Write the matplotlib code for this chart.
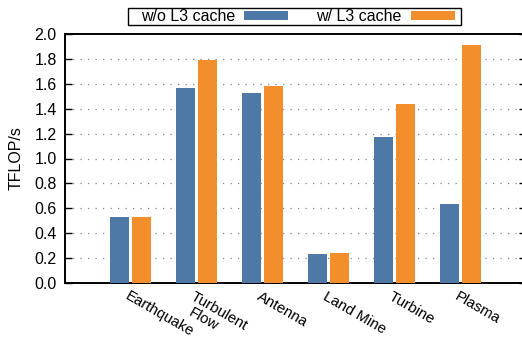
import numpy as np
import matplotlib.pyplot as plt
from matplotlib.patches import Rectangle

plt.rcParams['font.family'] = ['Liberation Sans', 'DejaVu Sans']

apps = ["Earthquake", "Turbulent\nFlow", "Antenna", "Land Mine", "Turbine", "Plasma"]
no_l3 = [0.53, 1.57, 1.525, 0.235, 1.17, 0.635]
with_l3 = [0.53, 1.79, 1.585, 0.237, 1.44, 1.91]
yticks = [0.0, 0.2, 0.4, 0.6, 0.8, 1.0, 1.2, 1.4, 1.6, 1.8, 2.0]

blue = '#4e79a7'
orange = '#f28e2b'
fs = 11.5

fig = plt.figure(figsize=(5.22, 3.39), dpi=100)
ax = fig.add_axes([65 / 522, 1 - 283 / 339, 461 / 522, 249 / 339])

x = np.arange(len(apps))
w = 0.29
b1 = ax.bar(x - 0.167, no_l3, w, color=blue, zorder=3, label='w/o L3 cache')
b2 = ax.bar(x + 0.167, with_l3, w, color=orange, zorder=3, label='w/ L3 cache')

ax.set_xlim(-1, 6)
ax.set_ylim(0, 2.0)
ax.set_yticks(yticks)
ax.set_yticklabels([f"{v:.1f}" for v in yticks], fontsize=fs)
ax.set_xticks([])
ax.set_ylabel('TFLOP/s', fontsize=fs, labelpad=8)

# dotted grid lines at the inner ticks
for v in yticks[1:-1]:
    ax.axhline(v, color='#888888', lw=0.9, ls=(0, (1, 5)), zorder=1)

ax.tick_params(axis='y', direction='in', length=5, width=1.0, right=True,
               pad=6, colors='black')
for side in ['left', 'bottom', 'top', 'right']:
    ax.spines[side].set_linewidth(1.4)

# rotated category labels; extra lines stack straight down
for xi, name in zip(x, apps):
    for k, line in enumerate(name.split("\n")):
        ax.annotate(line, xy=(xi, 0), xycoords='data',
                    xytext=(-1 - 1.5 * k, -4.5 - 12 * k),
                    textcoords='offset points', rotation=-30,
                    rotation_mode='anchor', ha='left', va='top', fontsize=10.8)

leg = fig.legend(handles=[b1, b2], loc='center', ncol=2, markerfirst=False,
                 bbox_to_anchor=(298 / 522, 1 - 16.5 / 339), fontsize=fs,
                 frameon=False, handlelength=2.8, handleheight=0.5,
                 handletextpad=0.55, columnspacing=1.75, borderpad=0.1,
                 borderaxespad=0)
fig.patches.append(Rectangle((128 / 522, 1 - 25 / 339), 333 / 522, 17 / 339,
                             transform=fig.transFigure, fill=False,
                             edgecolor='black', lw=1.0))

fig.savefig('out.png', dpi=100)
